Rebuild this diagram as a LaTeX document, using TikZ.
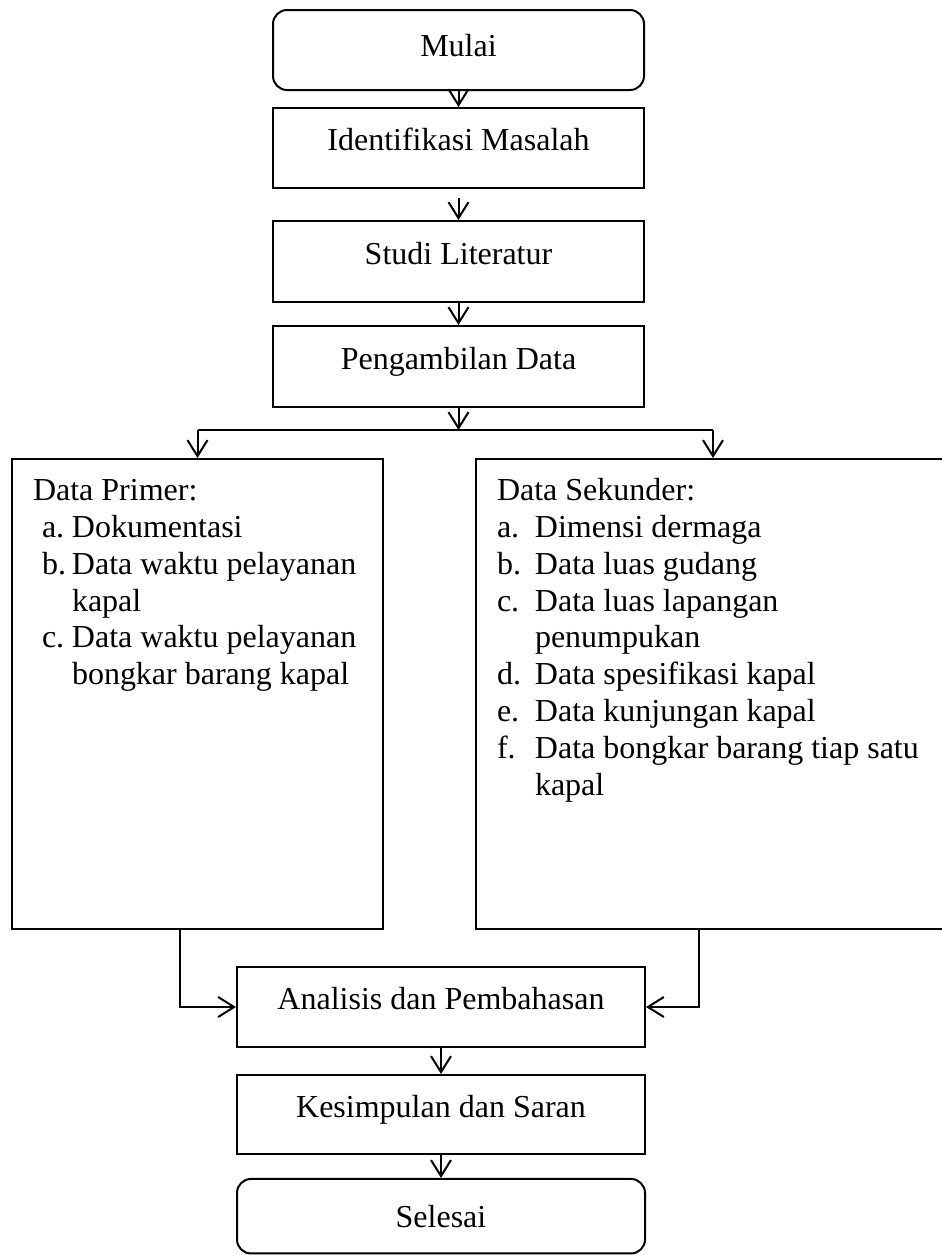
\documentclass[tikz,border=0pt]{standalone}
\usepackage{fontspec}
\setmainfont{Liberation Serif}
\usepackage{tikz}
\usetikzlibrary{arrows.meta}
\newcommand{\poin}[2]{\makebox[#1][l]{#2}}

\begin{document}
\begin{tikzpicture}[x=1pt,y=-1pt,>={Straight Barb[length=8pt,width=10pt]},line width=1pt,
  font=\fontsize{16pt}{18.4pt}\selectfont,
  proses/.style={draw,rectangle,minimum width=185.5pt,minimum height=40pt,text height=12pt,text depth=9.3pt},
  terminal/.style={draw,rectangle,rounded corners=7pt,minimum width=185.5pt,minimum height=40pt},
  databox/.style={draw,rectangle,align=flush left,inner xsep=10.5pt,inner ysep=8.8pt,text height=12pt,text depth=205.4pt}]
\useasboundingbox (0,0) rectangle (471,627.5);
\node[terminal,text height=11pt,text depth=5pt] (mulai) at (229.25,25) {Mulai};
\node[proses] (identifikasi) at (229.25,74) {Identifikasi Masalah};
\node[proses,minimum height=40.5pt] (studi) at (229.25,130.75) {Studi Literatur};
\node[proses,minimum height=40.5pt] (pengambilan) at (229.25,183.25) {Pengambilan Data};
\node[databox,text width=164.5pt] (primer) at (98.75,347) {Data Primer:\\
\hspace*{4.5pt}\poin{15pt}{a.}Dokumentasi\\
\hspace*{4.5pt}\poin{15pt}{b.}Data waktu pelayanan\\
\hspace*{19.5pt}kapal\\
\hspace*{4.5pt}\poin{15pt}{c.}Data waktu pelayanan\\
\hspace*{19.5pt}bongkar barang kapal};
\node[databox,text width=216pt] (sekunder) at (356.5,347) {Data Sekunder:\\
\poin{19pt}{a.}Dimensi dermaga\\
\poin{19pt}{b.}Data luas gudang\\
\poin{19pt}{c.}Data luas lapangan\\
\hspace*{19pt}penumpukan\\
\poin{19pt}{d.}Data spesifikasi kapal\\
\poin{19pt}{e.}Data kunjungan kapal\\
\poin{19pt}{f.}Data bongkar barang tiap satu\\
\hspace*{19pt}kapal};
\node[proses,minimum width=204pt] (analisis) at (220.5,503.5) {Analisis dan Pembahasan};
\node[proses,minimum width=204pt,minimum height=39.5pt] (kesimpulan) at (220.5,557.25) {Kesimpulan dan Saran};
\node[terminal,minimum width=204pt,minimum height=37.25pt] (selesai) at (220.5,608.1) {Selesai};
\coordinate (cabang) at (229.25,215);
\draw[->] (mulai) -- (identifikasi);
\draw[->,shorten <=4.5pt] (identifikasi) -- (studi);
\draw[->] (studi) -- (pengambilan);
\draw[->] (pengambilan) -- (cabang);
\draw (primer.north |- cabang) -- (sekunder.north |- cabang);
\draw[->] (primer.north |- cabang) -- (primer.north);
\draw[->] (sekunder.north |- cabang) -- (sekunder.north);
\draw[->] ([xshift=-8.75pt]primer.south) |- (analisis.west);
\draw[->] ([xshift=-7pt]sekunder.south) |- (analisis.east);
\draw[->] (analisis) -- (kesimpulan);
\draw[->] (kesimpulan) -- (selesai);
\end{tikzpicture}
\end{document}
